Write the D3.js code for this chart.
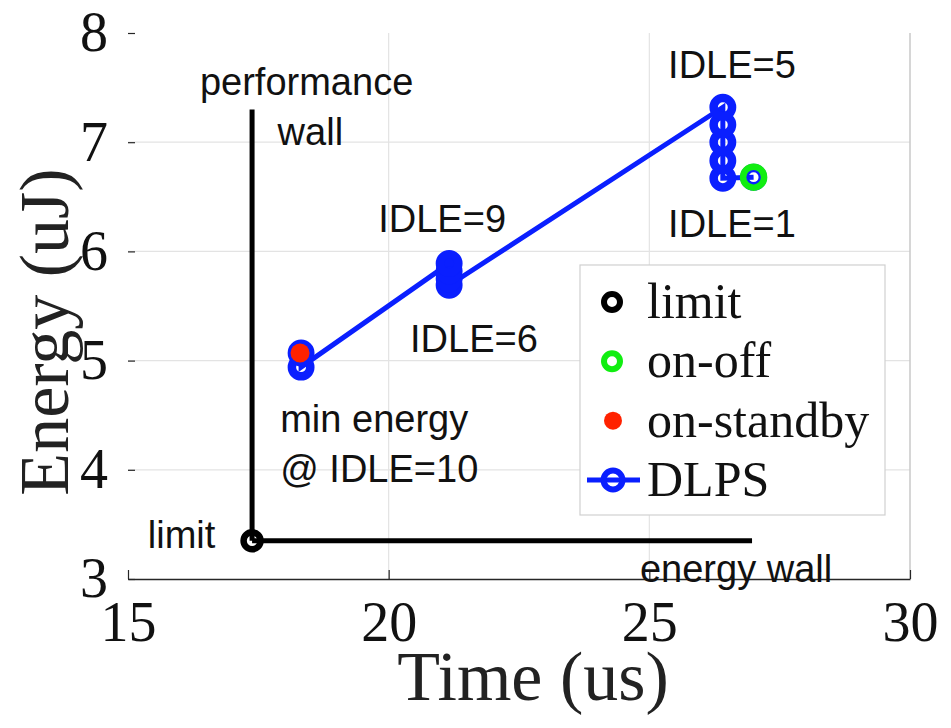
<!DOCTYPE html>
<html><head><meta charset="utf-8">
<script src="https://cdn.jsdelivr.net/npm/d3@7"></script>
<style>body{margin:0;background:#fff}svg{display:block}</style>
</head><body>
<svg id="c" width="951" height="728"></svg>
<script>
const xTicks = [15, 20, 25, 30];
const yTicks = [3, 4, 5, 6, 7, 8];
const dlpsX = [27.0, 26.41, 26.41, 26.41, 26.41, 26.41, 21.16, 21.16, 21.16, 21.16, 18.32, 18.32];
const dlpsY = [6.68, 6.67, 6.83, 7.0, 7.16, 7.32, 5.69, 5.75, 5.82, 5.89, 4.94, 5.07];
const limitPt = [17.38, 3.35];
const onOffPt = [27.0, 6.68];
const onStandbyPt = [18.30, 5.07];
const perfWall = [[17.38, 3.35], [17.38, 7.30]];
const energyWall = [[17.38, 3.35], [26.97, 3.35]];
const annotations = [
  {t: "performance", x: 16.38, y: 7.43},
  {t: "wall", x: 17.87, y: 6.97},
  {t: "IDLE=5", x: 25.36, y: 7.59},
  {t: "IDLE=1", x: 25.36, y: 6.13},
  {t: "IDLE=9", x: 19.80, y: 6.18},
  {t: "IDLE=6", x: 20.41, y: 5.08},
  {t: "min energy", x: 17.92, y: 4.35},
  {t: "@ IDLE=10", x: 17.92, y: 3.89},
  {t: "limit", x: 15.38, y: 3.28},
  {t: "energy wall", x: 24.82, y: 2.97}
];
const legendItems = ["limit", "on-off", "on-standby", "DLPS"];

const svg = d3.select("#c");
const x = d3.scaleLinear().domain([15, 30]).range([128, 910]);
const y = d3.scaleLinear().domain([3, 8]).range([579, 33]);
const BLUE = "#0a1fff", GREEN = "#11ee11", RED = "#ff2200";

// grid (no left / top box lines in the reference)
svg.append("g").selectAll("line").data(xTicks.filter(d => d > 15 && d < 30)).join("line")
  .attr("x1", d => x(d)).attr("x2", d => x(d)).attr("y1", y(8)).attr("y2", y(3))
  .attr("stroke", "#e3e3e3").attr("stroke-width", 1.2);
svg.append("g").selectAll("line").data(yTicks.filter(d => d > 3 && d < 8)).join("line")
  .attr("x1", x(15)).attr("x2", x(30)).attr("y1", d => y(d)).attr("y2", d => y(d))
  .attr("stroke", "#e3e3e3").attr("stroke-width", 1.2);
// right border
svg.append("line").attr("x1", x(30)).attr("x2", x(30)).attr("y1", y(8)).attr("y2", y(3))
  .attr("stroke", "#c8c8c8").attr("stroke-width", 1.5);

// axes
const xAxis = d3.axisBottom(x).tickValues(xTicks).tickFormat(d3.format("d")).tickSizeInner(-9).tickSizeOuter(0).tickPadding(22);
const gx = svg.append("g").attr("transform", `translate(0,${y(3)})`).call(xAxis);
gx.select(".domain").attr("stroke", "#262626").attr("stroke-width", 1.6);
gx.selectAll(".tick line").attr("stroke", "#262626").attr("stroke-width", 1.2);
gx.selectAll("text").attr("font-family", "Liberation Serif, serif").attr("font-size", 56).attr("fill", "#111");

const yAxis = d3.axisLeft(y).tickValues(yTicks).tickFormat(d3.format("d")).tickSizeInner(-7).tickSizeOuter(0).tickPadding(20);
const gy = svg.append("g").attr("transform", `translate(${x(15)},0)`).call(yAxis);
gy.select(".domain").remove();
gy.selectAll(".tick line").attr("stroke", "#262626").attr("stroke-width", 1.2);
gy.selectAll("text").attr("font-family", "Liberation Serif, serif").attr("font-size", 56).attr("fill", "#111");

// axis titles
svg.append("text").attr("x", 533).attr("y", 700).attr("text-anchor", "middle")
  .attr("font-family", "Liberation Serif, serif").attr("font-size", 70).attr("fill", "#222").text("Time (us)");
svg.append("text").attr("transform", "translate(68,332) rotate(-90)").attr("text-anchor", "middle")
  .attr("font-family", "Liberation Serif, serif").attr("font-size", 70).attr("fill", "#222").text("Energy (uJ)");

// walls
const lineGen = d3.line().x(d => x(d[0])).y(d => y(d[1]));
svg.append("path").attr("d", lineGen(perfWall)).attr("stroke", "#000").attr("stroke-width", 5).attr("fill", "none");
svg.append("path").attr("d", lineGen(energyWall)).attr("stroke", "#000").attr("stroke-width", 5).attr("fill", "none");

// DLPS
const dlps = dlpsX.map((v, i) => [v, dlpsY[i]]);
svg.append("path").attr("d", lineGen(dlps)).attr("stroke", BLUE).attr("stroke-width", 5).attr("fill", "none");
svg.append("g").selectAll("circle").data(dlps).join("circle")
  .attr("cx", d => x(d[0])).attr("cy", d => y(d[1])).attr("r", 9.2)
  .attr("fill", "none").attr("stroke", BLUE).attr("stroke-width", 8.5);

// limit, on-off, on-standby
svg.append("circle").attr("cx", x(limitPt[0])).attr("cy", y(limitPt[1])).attr("r", 8.5)
  .attr("fill", "none").attr("stroke", "#000").attr("stroke-width", 6.5);
svg.append("circle").attr("cx", x(onOffPt[0])).attr("cy", y(onOffPt[1])).attr("r", 10.5)
  .attr("fill", "none").attr("stroke", GREEN).attr("stroke-width", 6.5);
svg.append("circle").attr("cx", x(onStandbyPt[0])).attr("cy", y(onStandbyPt[1])).attr("r", 9.5)
  .attr("fill", RED);

// annotations
svg.append("g").selectAll("text").data(annotations).join("text")
  .attr("x", d => x(d.x)).attr("y", d => y(d.y))
  .attr("font-family", "Liberation Sans, Arial, sans-serif").attr("font-size", 38).attr("fill", "#111")
  .text(d => d.t);

// legend
const lg = svg.append("g");
lg.append("rect").attr("x", 580).attr("y", 265).attr("width", 305).attr("height", 250)
  .attr("fill", "#fff").attr("stroke", "#d0d0d0").attr("stroke-width", 1.2);
const ly = d3.scalePoint().domain(legendItems).range([302, 480]);
lg.append("circle").attr("cx", 612).attr("cy", ly("limit")).attr("r", 8).attr("fill", "none").attr("stroke", "#000").attr("stroke-width", 6);
lg.append("circle").attr("cx", 612).attr("cy", ly("on-off")).attr("r", 8).attr("fill", "none").attr("stroke", GREEN).attr("stroke-width", 6);
lg.append("circle").attr("cx", 613).attr("cy", ly("on-standby")).attr("r", 9).attr("fill", RED);
lg.append("line").attr("x1", 587).attr("x2", 640).attr("y1", ly("DLPS")).attr("y2", ly("DLPS")).attr("stroke", BLUE).attr("stroke-width", 5);
lg.append("circle").attr("cx", 613).attr("cy", ly("DLPS")).attr("r", 9.5).attr("fill", "none").attr("stroke", BLUE).attr("stroke-width", 6);
lg.selectAll("text").data(legendItems).join("text")
  .attr("x", 647).attr("y", d => ly(d) + 16)
  .attr("font-family", "Liberation Serif, serif").attr("font-size", 50).attr("fill", "#111")
  .text(d => d);
</script>
</body></html>
